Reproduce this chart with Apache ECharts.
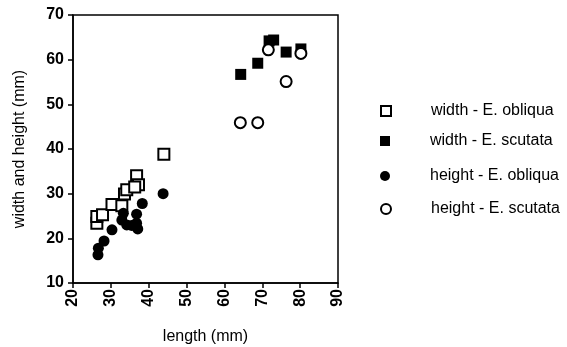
<!DOCTYPE html>
<html><head><meta charset="utf-8">
<script src="https://cdn.jsdelivr.net/npm/echarts@6/dist/echarts.min.js"></script>
<style>html,body{margin:0;padding:0;background:#fff}#c{width:567px;height:347px}</style>
</head><body><div id="c"></div>
<script>
var seriesNames = ['width - E. obliqua', 'width - E. scutata', 'height - E. obliqua', 'height - E. scutata'];
var widthObliqua = [[26.3,23.4],[26.3,24.9],[27.8,25.3],[30.3,27.6],[32.9,27.3],[33.6,29.9],[34.2,30.9],[36.8,34.0],[37.3,32.0],[36.3,31.5],[44.0,38.8]];
var widthScutata = [[64.3,56.7],[68.8,59.2],[71.8,64.2],[73.0,64.4],[76.3,61.7],[80.2,62.4]];
var heightObliqua = [[26.6,16.3],[26.7,17.8],[28.2,19.4],[30.3,21.9],[32.9,24.1],[33.3,25.6],[34.2,23.0],[35.5,22.9],[36.8,23.4],[37.1,22.1],[36.8,25.4],[38.3,27.8],[43.8,30.0]];
var heightScutata = [[64.2,45.9],[68.8,45.9],[71.6,62.2],[76.3,55.1],[80.2,61.4]];
var xTicks = [20,30,40,50,60,70,80,90];
var yTicks = [10,20,30,40,50,60,70];

var chart = echarts.init(document.getElementById('c'));
var font = 'Liberation Sans, Arial, sans-serif';
var styles = [
  {symbol:'rect', itemStyle:{color:'#fff', borderColor:'#000', borderWidth:2, opacity:1}},
  {symbol:'rect', itemStyle:{color:'#000', opacity:1}},
  {symbol:'circle', itemStyle:{color:'#000', opacity:1}},
  {symbol:'circle', itemStyle:{color:'#fff', borderColor:'#000', borderWidth:2, opacity:1}}
];
var datas = [widthObliqua, widthScutata, heightObliqua, heightScutata];
var legendTops = [98, 128, 163, 196];
chart.setOption({
  animation:false,
  backgroundColor:'#fff',
  grid:{left:73, right:229, top:15, bottom:64, show:true, borderColor:'#000', borderWidth:1.5, backgroundColor:'transparent', containLabel:false, outerBoundsMode:'none'},
  xAxis:{type:'value', min:xTicks[0], max:xTicks[xTicks.length-1], interval:10,
    name:'length (mm)', nameLocation:'middle', nameGap:46,
    nameTextStyle:{fontFamily:font, fontSize:16, color:'#000'},
    axisLine:{lineStyle:{color:'#000', width:1.5}},
    axisTick:{show:true, length:5, lineStyle:{color:'#000', width:1.5}},
    axisLabel:{rotate:90, fontFamily:font, fontSize:16, fontWeight:'bold', color:'#000', margin:6},
    splitLine:{show:false}},
  yAxis:{type:'value', min:yTicks[0], max:yTicks[yTicks.length-1], interval:10,
    name:'width and height (mm)', nameLocation:'middle', nameGap:45,
    nameTextStyle:{fontFamily:font, fontSize:16, color:'#000'},
    axisLine:{lineStyle:{color:'#000', width:1.5}},
    axisTick:{show:true, length:5, lineStyle:{color:'#000', width:1.5}},
    axisLabel:{fontFamily:font, fontSize:16, fontWeight:'bold', color:'#000', margin:9},
    splitLine:{show:false}},
  legend: seriesNames.map(function(n,i){return {
    data:[n], orient:'vertical', left:375, top:legendTops[i], itemWidth:10, itemHeight:10, itemGap:0,
    textStyle:{fontFamily:font, fontSize:16, color:'#000', padding:[0,0,0,35]}};}),
  series: seriesNames.map(function(n,i){return {
    name:n, type:'scatter', data:datas[i], symbol:styles[i].symbol, symbolSize:11,
    itemStyle:styles[i].itemStyle};})
});
</script></body></html>
